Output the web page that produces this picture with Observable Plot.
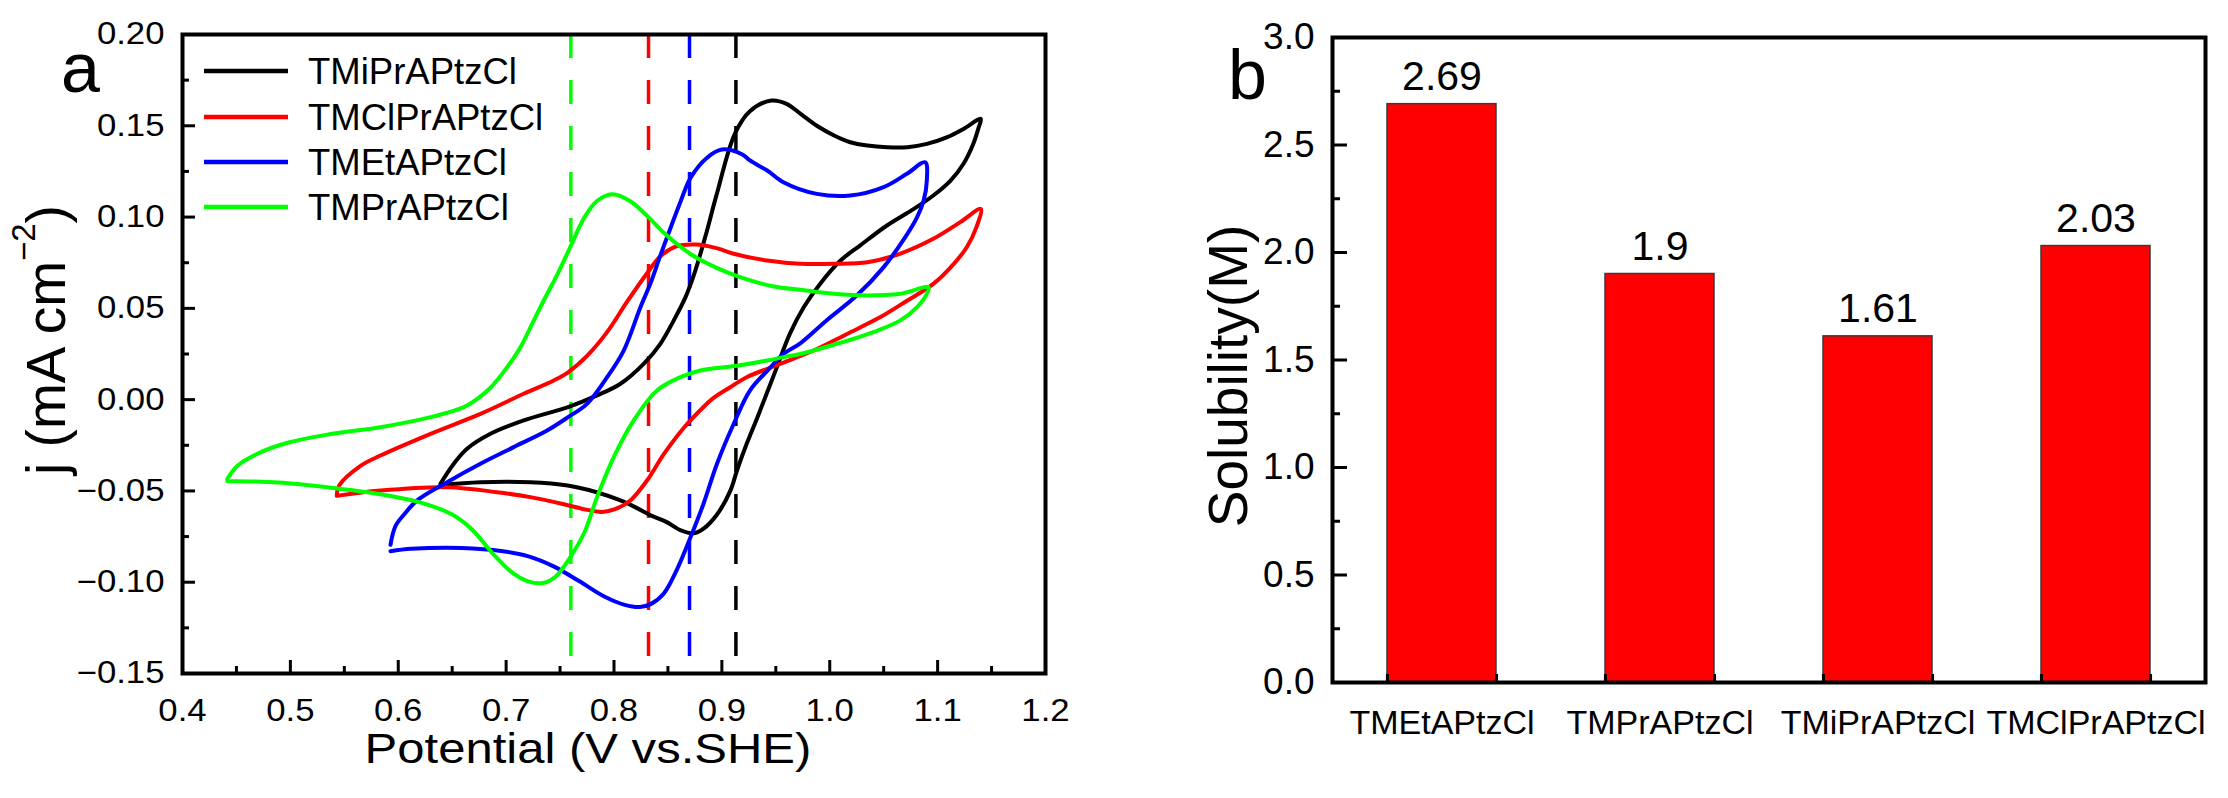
<!DOCTYPE html>
<html><head><meta charset="utf-8">
<script src="https://cdn.jsdelivr.net/npm/d3@7"></script>
<script src="https://cdn.jsdelivr.net/npm/@observablehq/plot@0.6"></script>
<style>
html,body{margin:0;padding:0;background:#fff;}
#fig{position:relative;width:2228px;height:798px;overflow:hidden;background:#fff;}
#pa{position:absolute;left:0;top:0;}
#pb{position:absolute;left:1130px;top:0;}
</style></head><body>
<div id="fig"><div id="pa"></div><div id="pb"></div></div>
<script>
const FONT = "'Liberation Sans', Arial, Helvetica, sans-serif";

// ---------- Panel a: cyclic voltammograms ----------
const seriesNames  = ["TMiPrAPtzCl", "TMClPrAPtzCl", "TMEtAPtzCl", "TMPrAPtzCl"];
const seriesColors = ["#000000", "#ff0000", "#0000ff", "#00ff00"];

// [potential V vs SHE, current density mA cm^-2], traced along each loop
const cvIPr = [[0.6391,-0.0461],[0.6515,-0.0351],[0.6638,-0.0269],[0.6855,-0.0187],[0.7163,-0.0114],[0.7574,-0.0041],[0.7843,0.0023],[0.806,0.0087],[0.8275,0.0196],[0.843,0.0306],[0.8553,0.0433],[0.8662,0.056],[0.875,0.070],[0.885,0.090],[0.895,0.112],[0.912,0.1456],[0.926,0.158],[0.946,0.1638],[0.960,0.162],[0.973,0.1565],[0.988,0.150],[1.004,0.1447],[1.019,0.141],[1.035,0.1392],[1.053,0.1383],[1.072,0.1383],[1.090,0.1401],[1.109,0.1438],[1.124,0.1483],[1.140,0.1538],
  [1.138,0.149],[1.133,0.140],[1.124,0.1292],[1.112,0.120],[1.096,0.1118],[1.078,0.1045],[1.053,0.0954],[1.028,0.0844],[1.010,0.0762],[0.991,0.0634],[0.976,0.0507],[0.963,0.036],[0.951,0.0178],[0.942,0.004],[0.933,-0.0096],[0.923,-0.0242],[0.914,-0.0388],[0.908,-0.0497],[0.896,-0.0625],[0.883,-0.0707],[0.874,-0.0732],[0.862,-0.0716],[0.848,-0.0668],[0.834,-0.0634],[0.820,-0.059],[0.806,-0.0552],[0.784,-0.0507],[0.757,-0.047],[0.7225,-0.0452],[0.6762,-0.0452],[0.6391,-0.0468]];
const cvClPr = [[0.543,-0.0525],[0.5455,-0.0468],[0.5644,-0.0365],[0.5835,-0.0306],[0.630,-0.0187],[0.6762,-0.0078],[0.7163,0.0032],[0.7441,0.0105],[0.7574,0.015],[0.775,0.024],[0.7936,0.037],[0.812,0.0535],[0.831,0.0695],[0.843,0.0785],[0.857,0.0838],[0.876,0.085],[0.895,0.083],[0.911,0.0799],[0.942,0.0762],[0.973,0.0744],[1.004,0.0744],[1.035,0.0753],[1.065,0.0799],[1.096,0.0881],[1.121,0.0972],[1.140,0.1045],
  [1.136,0.0945],[1.127,0.0835],[1.115,0.0744],[1.096,0.0634],[1.072,0.0543],[1.047,0.0452],[1.016,0.036],[0.985,0.0269],[0.954,0.0196],[0.923,0.0123],[0.908,0.0069],[0.892,0.0008],[0.883,-0.004],[0.8646,-0.0155],[0.846,-0.030],[0.8306,-0.0443],[0.8152,-0.0552],[0.801,-0.060],[0.789,-0.0615],[0.772,-0.060],[0.7535,-0.0573],[0.7225,-0.0534],[0.6916,-0.0507],[0.6453,-0.048],[0.5835,-0.0498],[0.543,-0.0527]];
const cvEt = [[0.5928,-0.0795],[0.5975,-0.0692],[0.6060,-0.0625],[0.6175,-0.0552],[0.6453,-0.0452],[0.6762,-0.0351],[0.707,-0.026],[0.738,-0.0169],[0.7574,-0.0096],[0.775,-0.0023],[0.7936,0.0123],[0.809,0.0269],[0.8245,0.0506],[0.834,0.064],[0.843,0.079],[0.853,0.095],[0.862,0.109],[0.871,0.1215],[0.886,0.1324],[0.900,0.137],[0.919,0.1343],[0.926,0.131],[0.942,0.1255],[0.957,0.1191],[0.988,0.1127],[1.019,0.1118],[1.050,0.1164],[1.0715,0.1237],[1.0885,0.130],
  [1.090,0.120],[1.087,0.109],[1.081,0.100],[1.068,0.0872],[1.050,0.0726],[1.025,0.057],[0.997,0.0434],[0.973,0.031],[0.957,0.025],[0.944,0.017],[0.926,0.005],[0.911,-0.0132],[0.8955,-0.0351],[0.883,-0.057],[0.871,-0.0753],[0.858,-0.0935],[0.846,-0.1063],[0.834,-0.112],[0.824,-0.1136],[0.810,-0.1124],[0.791,-0.1078],[0.768,-0.0995],[0.744,-0.0913],[0.720,-0.0857],[0.697,-0.083],[0.659,-0.0812],[0.612,-0.0817],[0.5928,-0.083]];
const cvPr = [[0.4415,-0.0435],[0.451,-0.0362],[0.4699,-0.0295],[0.4983,-0.0235],[0.536,-0.019],[0.5835,-0.0151],[0.630,-0.0096],[0.6607,-0.0041],[0.673,0.0003],[0.6855,0.0065],[0.701,0.0178],[0.7133,0.0287],[0.7256,0.0433],[0.7349,0.0543],[0.7487,0.070],[0.759,0.083],[0.7724,0.0996],[0.7842,0.1088],[0.7983,0.1125],[0.8148,0.1088],[0.8323,0.0997],[0.848,0.0904],[0.8716,0.0795],[0.8952,0.0722],[0.9189,0.0667],[0.9472,0.0621],[0.9746,0.060],[1.0036,0.058],[1.0345,0.0571],[1.0654,0.058],[1.0916,0.0616],
  [1.090,0.058],[1.081,0.0507],[1.0654,0.0434],[1.045,0.038],[1.0067,0.0306],[0.9727,0.025],[0.9573,0.0233],[0.9418,0.0214],[0.914,0.0186],[0.880,0.016],[0.8615,0.0123],[0.8399,0.005],[0.8183,-0.0114],[0.7998,-0.0315],[0.7843,-0.0534],[0.7724,-0.0729],[0.758,-0.0876],[0.7463,-0.0967],[0.7345,-0.1004],[0.7203,-0.0995],[0.706,-0.0949],[0.687,-0.0839],[0.6684,-0.0711],[0.6495,-0.0628],[0.621,-0.0564],[0.5833,-0.0518],[0.536,-0.0481],[0.4888,-0.0454],[0.4415,-0.0445]];
const cvCurves = [cvIPr, cvClPr, cvEt, cvPr];
// half-wave potentials (dashed markers), same order as seriesNames
const halfWaveE = [0.913, 0.832, 0.870, 0.760];

const xTicksA = [0.4, 0.5, 0.6, 0.7, 0.8, 0.9, 1.0, 1.1, 1.2];
const xMinorA = [0.45, 0.55, 0.65, 0.75, 0.85, 0.95, 1.05, 1.15];
const yTicksA = [-0.15, -0.10, -0.05, 0.00, 0.05, 0.10, 0.15, 0.20];
const yMinorA = [-0.125, -0.075, -0.025, 0.025, 0.075, 0.125, 0.175];

// ---------- Panel b: solubility ----------
const compounds  = ["TMEtAPtzCl", "TMPrAPtzCl", "TMiPrAPtzCl", "TMClPrAPtzCl"];
const solubility = [2.69, 1.9, 1.61, 2.03];
const yTicksB = [0, 0.5, 1.0, 1.5, 2.0, 2.5, 3.0];
const yMinorB = [0.25, 0.75, 1.25, 1.75, 2.25, 2.75];

// ---------- build tables ----------
const cvRows = [];
cvCurves.forEach((c, i) => c.forEach(([v, j]) => cvRows.push({name: seriesNames[i], v, j})));
const halfRows = halfWaveE.map((e, i) => ({name: seriesNames[i], e}));
const solRows = compounds.map((name, i) => ({name, s: solubility[i]}));

function stretch(nodes, f) {
  nodes.forEach(n => {
    const L = n.getComputedTextLength();
    if (L > 0) { n.setAttribute("textLength", (L * f).toFixed(1)); n.setAttribute("lengthAdjust", "spacingAndGlyphs"); }
  });
}

// ---------- Panel a chart ----------
const WA = 1130, HA = 798, mlA = 182, mrA = 85, mtA = 34, mbA = 125;
const innerWA = WA - mlA - mrA, innerHA = HA - mtA - mbA;
const chartA = Plot.plot({
  width: WA, height: HA, marginLeft: mlA, marginRight: mrA, marginTop: mtA, marginBottom: mbA,
  style: {fontFamily: FONT, fontSize: "31px", color: "#000", background: "transparent", overflow: "visible"},
  x: {domain: [0.4, 1.2]},
  y: {domain: [-0.15, 0.20]},
  color: {domain: seriesNames, range: seriesColors},
  marks: [
    Plot.ruleX(halfRows, {x: "e", stroke: "name", strokeWidth: 3.5, strokeDasharray: "24,22"}),
    Plot.line(cvRows, {x: "v", y: "j", z: "name", stroke: "name", strokeWidth: 4, curve: "catmull-rom", strokeLinejoin: "round"}),
    Plot.tickX(xTicksA, {x: d => d, insetTop: innerHA - 13, strokeWidth: 3}),
    Plot.tickX(xMinorA, {x: d => d, insetTop: innerHA - 7, strokeWidth: 3}),
    Plot.tickY(yTicksA, {y: d => d, insetRight: innerWA - 13, strokeWidth: 3}),
    Plot.tickY(yMinorA, {y: d => d, insetRight: innerWA - 7, strokeWidth: 3}),
    Plot.frame({stroke: "#000", strokeWidth: 4}),
    Plot.axisX(xTicksA, {tickSize: 0, tickPadding: 25, tickFormat: d3.format(".1f"), label: null}),
    Plot.axisY(yTicksA, {tickSize: 0, tickPadding: 18, tickFormat: d3.format(".2f"), label: null})
  ]
});
document.getElementById("pa").appendChild(chartA);
stretch(chartA.querySelectorAll('g[aria-label="x-axis tick label"] text, g[aria-label="y-axis tick label"] text'), 1.12);

const sa = d3.select(chartA);
sa.append("text").attr("x", 61).attr("y", 92).attr("text-anchor", "start").attr("font-size", 70).attr("font-family", FONT).text("a");
const xt = sa.append("text").attr("x", 588).attr("y", 763).attr("text-anchor", "middle")
  .attr("font-size", 43).attr("font-family", FONT).text("Potential (V vs.SHE)");
stretch([xt.node()], 1.14);
const yt = sa.append("text").attr("transform", "translate(65,340) rotate(-90)").attr("text-anchor", "middle")
  .attr("font-size", 55).attr("font-family", FONT);
yt.append("tspan").text("j (mA cm");
yt.append("tspan").attr("font-size", 33).attr("dy", -30).text("\u22122");
yt.append("tspan").attr("dy", 30).text(")");
// legend
const legY = [71, 117, 162, 207];
seriesNames.forEach((n, i) => {
  sa.append("line").attr("x1", 204).attr("x2", 288).attr("y1", legY[i]).attr("y2", legY[i])
    .attr("stroke", seriesColors[i]).attr("stroke-width", 4.5);
  sa.append("text").attr("x", 308).attr("y", legY[i]).attr("dy", "0.36em").attr("text-anchor", "start")
    .attr("font-size", 36.5).attr("font-family", FONT).text(n);
});

// ---------- Panel b chart ----------
const WB = 1098, HB = 798, mlB = 202, mrB = 23, mtB = 37, mbB = 116;
const innerWB = WB - mlB - mrB, innerHB = HB - mtB - mbB;
const halfBand = innerWB / compounds.length * 0.5 / 2;
const chartB = Plot.plot({
  width: WB, height: HB, marginLeft: mlB, marginRight: mrB, marginTop: mtB, marginBottom: mbB,
  style: {fontFamily: FONT, fontSize: "37px", color: "#000", background: "transparent", overflow: "visible"},
  x: {domain: compounds, type: "band", paddingInner: 0.5, paddingOuter: 0.25},
  y: {domain: [0, 3]},
  marks: [
    Plot.barY(solRows, {x: "name", y: "s", fill: "#ff0000", stroke: "#3a3a3a", strokeWidth: 1.5}),
    Plot.text(solRows, {x: "name", y: "s", text: d => String(d.s), dy: -14, lineAnchor: "bottom", fontSize: 41}),
    Plot.tickY(yTicksB, {y: d => d, insetRight: innerWB - 15, strokeWidth: 3}),
    Plot.tickY(yMinorB, {y: d => d, insetRight: innerWB - 8, strokeWidth: 3}),
    Plot.tickX(compounds, {x: d => d, dx: -halfBand, insetTop: innerHB - 8, strokeWidth: 3}),
    Plot.tickX(compounds, {x: d => d, dx: halfBand, insetTop: innerHB - 8, strokeWidth: 3}),
    Plot.frame({stroke: "#000", strokeWidth: 4}),
    Plot.axisX({tickSize: 0, tickPadding: 27, fontSize: 34, label: null}),
    Plot.axisY(yTicksB, {tickSize: 0, tickPadding: 18, tickFormat: d3.format(".1f"), label: null})
  ]
});
document.getElementById("pb").appendChild(chartB);
const sb = d3.select(chartB);
sb.append("text").attr("x", 98).attr("y", 99).attr("text-anchor", "start").attr("font-size", 70).attr("font-family", FONT).text("b");
sb.append("text").attr("transform", "translate(117,376) rotate(-90)").attr("text-anchor", "middle")
  .attr("font-size", 55).attr("font-family", FONT).text("Solubility(M)");
</script>
</body></html>
